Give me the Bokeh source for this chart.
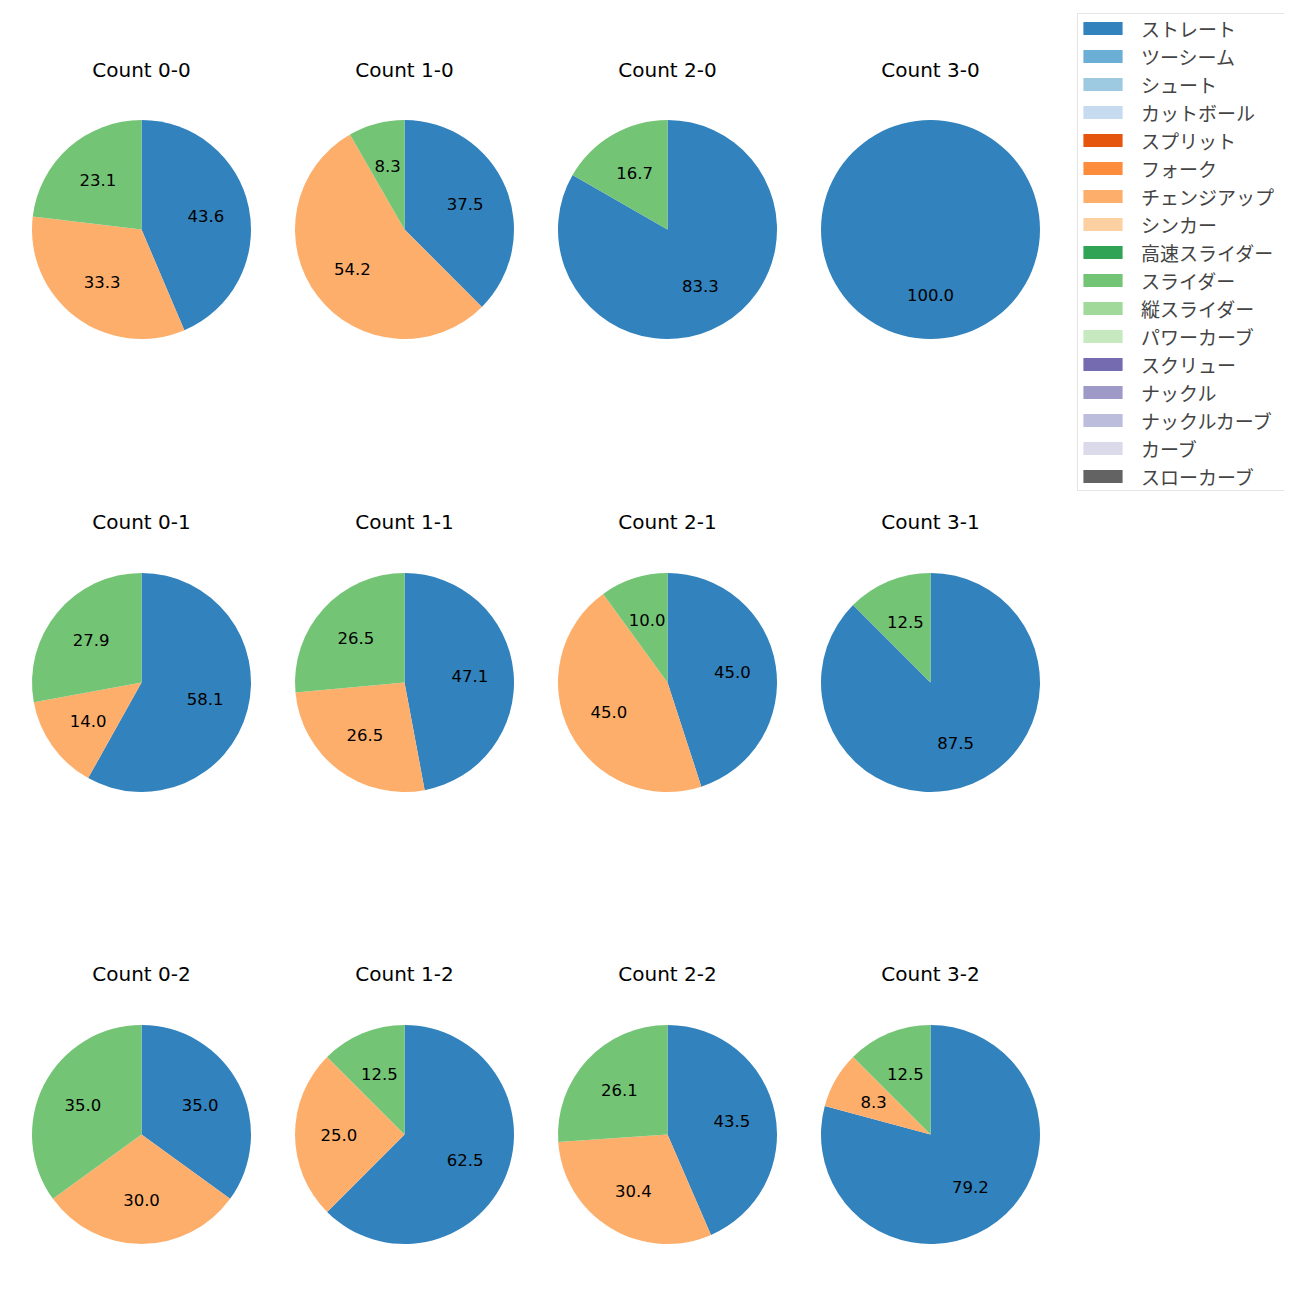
import math
from bokeh.plotting import figure
from bokeh.models import ColumnDataSource, Range1d, Legend, LegendItem
from bokeh.core.properties import value
from bokeh.embed import file_html
from bokeh.resources import INLINE

# ---- data ----
counts = ["0-0", "1-0", "2-0", "3-0",
          "0-1", "1-1", "2-1", "3-1",
          "0-2", "1-2", "2-2", "3-2"]
pitch_types = ["ストレート", "ツーシーム", "シュート", "カットボール", "スプリット", "フォーク",
               "チェンジアップ", "シンカー", "高速スライダー", "スライダー", "縦スライダー",
               "パワーカーブ", "スクリュー", "ナックル", "ナックルカーブ", "カーブ", "スローカーブ"]
pitch_colors = ["#3182bd", "#6baed6", "#9ecae1", "#c6dbef", "#e6550d", "#fd8d3c",
                "#fdae6b", "#fdd0a2", "#31a354", "#74c476", "#a1d99b", "#c7e9c0",
                "#756bb1", "#9e9ac8", "#bcbddc", "#dadaeb", "#636363"]
straight = [43.6, 37.5, 83.3, 100.0, 58.1, 47.1, 45.0, 87.5, 35.0, 62.5, 43.5, 79.2]
changeup = [33.3, 54.2, 0.0, 0.0, 14.0, 26.5, 45.0, 0.0, 30.0, 25.0, 30.4, 8.3]
slider = [23.1, 8.3, 16.7, 0.0, 27.9, 26.5, 10.0, 12.5, 35.0, 12.5, 26.1, 12.5]

series = {"ストレート": straight, "チェンジアップ": changeup, "スライダー": slider}

# ---- layout (screen pixels) ----
W = 1284
col_x = [141, 404, 667, 930]
row_pie_y = [229, 682, 1134]
row_title_y = [69, 521, 973]
R = 109.5
NUM_FONT = "DejaVu Sans"
JP_FONT = "Noto Sans CJK JP"


def sy(y):
    return W - y


p = figure(width=W, height=W, x_range=Range1d(0, W), y_range=Range1d(0, W),
           output_backend="svg", toolbar_location=None,
           x_axis_location=None, y_axis_location=None, min_border=0)
p.outline_line_color = None
p.grid.visible = False

wedge_data = {pt: dict(x=[], y=[], start=[], end=[]) for pt in pitch_types}
label_data = dict(x=[], y=[], text=[])
title_data = dict(x=[], y=[], text=[])
for i, c in enumerate(counts):
    cx = col_x[i % 4]
    cy = sy(row_pie_y[i // 4])
    title_data["x"].append(cx)
    title_data["y"].append(sy(row_title_y[i // 4]))
    title_data["text"].append("Count " + c)
    vals = [(pt, series[pt][i]) for pt in pitch_types if pt in series and series[pt][i] > 0]
    total = sum(v for _, v in vals)
    cum = 0.0
    for pt, v in vals:
        frac = v / total
        a1 = math.radians(90 - 360 * cum)
        a2 = math.radians(90 - 360 * (cum + frac))
        mid = (a1 + a2) / 2
        if a1 - a2 >= 2 * math.pi - 1e-9:
            a2 += 1e-4  # full circle: avoid start == end
        d = wedge_data[pt]
        d["x"].append(cx)
        d["y"].append(cy)
        d["start"].append(a2)
        d["end"].append(a1)
        label_data["x"].append(cx + 0.6 * R * math.cos(mid))
        label_data["y"].append(cy + 0.6 * R * math.sin(mid))
        label_data["text"].append("%.1f" % (frac * 100))
        cum += frac

items = []
for pt, col in zip(pitch_types, pitch_colors):
    p.wedge(x="x", y="y", radius=R, start_angle="start", end_angle="end",
            direction="anticlock", source=ColumnDataSource(wedge_data[pt]),
            fill_color=col, line_color=None)
    # legend-only swatch renderer (not visible in the plot area)
    sw = p.block(x=[float("nan")], y=[float("nan")], width=[1], height=[1],
                 fill_color=col, line_color=None)
    items.append(LegendItem(label=pt, renderers=[sw]))

p.text(x="x", y="y", text="text", source=ColumnDataSource(label_data),
       text_align="center", text_baseline="middle", text_font=value(NUM_FONT),
       text_font_size="16.5px", text_color="#000000")
p.text(x="x", y="y", text="text", source=ColumnDataSource(title_data),
       text_align="center", text_baseline="middle", text_font=value(NUM_FONT),
       text_font_size="20px", text_color="#000000")

legend = Legend(items=items, location=(1077, 793),
                label_text_font=JP_FONT, label_text_font_size="19px",
                label_height=28, label_width=143,
                glyph_width=49, glyph_height=16, label_standoff=14,
                spacing=0, padding=0, margin=0,
                border_line_color="#cccccc", border_line_width=1,
                background_fill_alpha=1.0)
p.add_layout(legend, "center")

open("out.html", "w").write(file_html(p, INLINE))
